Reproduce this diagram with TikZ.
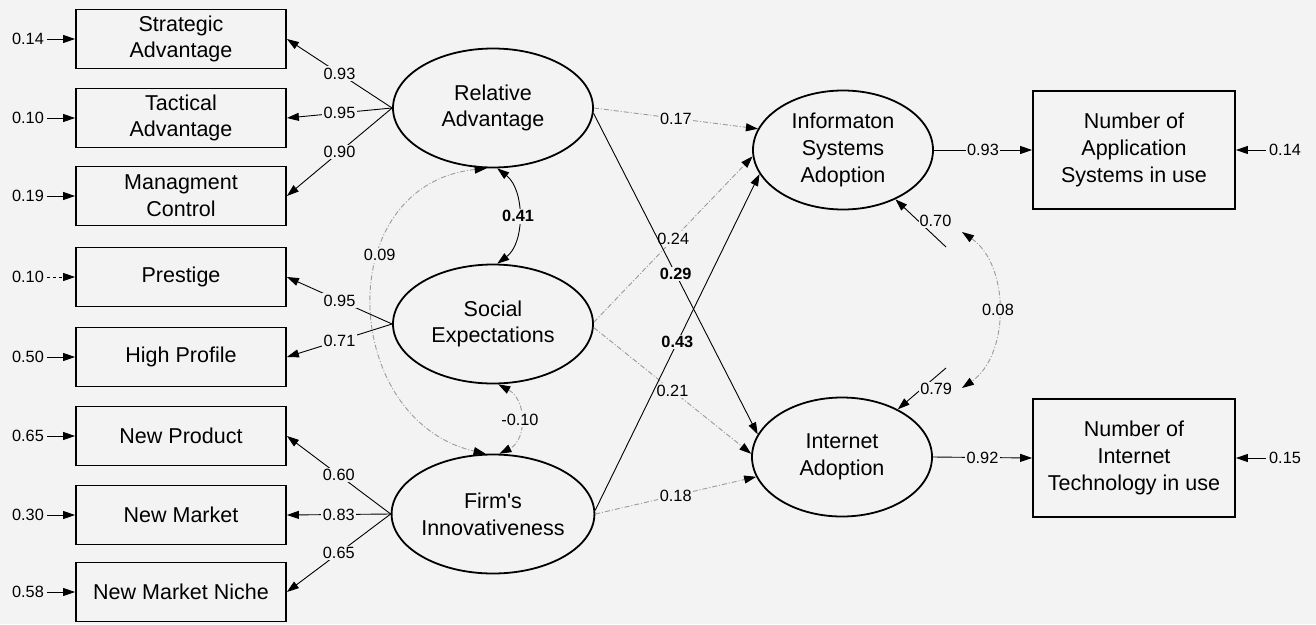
\documentclass[tikz,border=0pt]{standalone}
\usepackage{fontspec}
\setmainfont{Liberation Sans}
\usetikzlibrary{arrows.meta,shapes.geometric}
\definecolor{bg}{RGB}{243,243,243}
\definecolor{dgray}{RGB}{155,155,155}
\begin{document}
\begin{tikzpicture}[x=1pt,y=-1pt,
  every node/.style={font=\fontsize{16.3}{19}\selectfont},
  obs/.style={draw, line width=1.8pt, rectangle, minimum width=210pt, minimum height=59pt,
    align=center, inner sep=0pt, font=\fontsize{21.5}{26.8}\selectfont},
  obsr/.style={obs, minimum width=202pt, minimum height=118pt},
  lat/.style={draw, line width=1.8pt, ellipse, minimum width=200pt, minimum height=119pt,
    inner sep=0pt, align=center, font=\fontsize{21.5}{26.8}\selectfont},
  latr/.style={lat, minimum width=180pt},
  lbl/.style={fill=bg, inner sep=1.5pt, text=black},
  blbl/.style={lbl, font=\fontsize{16.3}{19}\selectfont\bfseries},
  arr/.style={line width=0.9pt, -{Triangle[length=12pt,width=8pt,color=black]}},
  darr/.style={arr, draw=dgray, dash pattern=on 5pt off 2pt on 1pt off 2pt},
  cov/.style={line width=0.9pt, {Triangle[length=12pt,width=8pt,color=black]}-{Triangle[length=12pt,width=8pt,color=black]}},
  dcov/.style={cov, draw=dgray, dash pattern=on 5pt off 2pt on 1pt off 2pt},
]
\fill[bg] (0,0) rectangle (1316,624);
\useasboundingbox (0,0) rectangle (1316,624);

% observed indicators (left)
\node[obs] (s1) at (181,39)  {Strategic\\Advantage};
\node[obs] (s2) at (181,118) {Tactical\\Advantage};
\node[obs] (s3) at (181,196) {Managment\\Control};
\node[obs] (s4) at (181,277) {Prestige};
\node[obs] (s5) at (181,357) {High Profile};
\node[obs] (s6) at (181,436) {New Product};
\node[obs] (s7) at (181,515) {New Market};
\node[obs] (s8) at (181,592) {New Market Niche};

% error variances (left)
\node (e1) at (28,39)  {0.14};
\node (e2) at (28,118) {0.10};
\node (e3) at (28,196) {0.19};
\node (e4) at (28,277) {0.10};
\node (e5) at (28,357) {0.50};
\node (e6) at (28,436) {0.65};
\node (e7) at (28,515) {0.30};
\node (e8) at (28,592) {0.58};
\draw[arr] (e1) -- (s1.west);
\draw[arr] (e2) -- (s2.west);
\draw[arr] (e3) -- (s3.west);
\draw[arr, dash pattern=on 3pt off 3pt] (e4) -- (s4.west);
\draw[arr] (e5) -- (s5.west);
\draw[arr] (e6) -- (s6.west);
\draw[arr] (e7) -- (s7.west);
\draw[arr] (e8) -- (s8.west);

% latent constructs
\node[lat] (RA) at (493,108) {Relative\\Advantage};
\node[lat] (SE) at (493,324) {Social\\Expectations};
\node[lat] (FI) at (493,514) {Firm\textquotesingle s\\Innovativeness};
\node[latr] (ISA) at (843,150) {Informaton\\Systems\\Adoption};
\node[latr] (IA) at (842,457) {Internet\\Adoption};

% observed outcomes (right)
\node[obsr] (B1) at (1134,150) {Number of\\Application\\Systems in use};
\node[obsr] (B2) at (1134,458) {Number of\\Internet\\Technology in use};
\node (r1) at (1285,150) {0.14};
\node (r2) at (1285,458) {0.15};
\draw[arr] (r1) -- (B1.east);
\draw[arr] (r2) -- (B2.east);

% loadings
\draw[arr] (RA.west) -- node[lbl]{0.93} (s1.east);
\draw[arr] (RA.west) -- node[lbl]{0.95} (s2.east);
\draw[arr] (RA.west) -- node[lbl]{0.90} (s3.east);
\draw[arr] (SE.west) -- node[lbl]{0.95} (s4.east);
\draw[arr] (SE.west) -- node[lbl]{0.71} (s5.east);
\draw[arr] (FI.west) -- node[lbl]{0.60} (s6.east);
\draw[arr] (FI.west) -- node[lbl]{0.83} (s7.east);
\draw[arr] (FI.west) -- node[lbl]{0.65} (s8.east);

% structural paths
\draw[darr] (RA.east) -- node[lbl]{0.17} (ISA.166);
\draw[darr] (SE.1) -- node[lbl]{0.24} (ISA.-176);
\draw[darr] (SE.-2) -- node[lbl]{0.21} (IA.178);
\draw[darr] (FI.east) -- node[lbl]{0.18} (IA.-167);
\draw[arr] (RA.-3) -- node[blbl]{0.29} (IA.165);
\draw[arr] (FI.2) -- node[blbl]{0.43} (ISA.-164);

% right loadings
\draw[arr] (ISA.east) -- node[lbl]{0.93} (B1.west);
\draw[arr] (IA.east) -- node[lbl]{0.92} (B2.west);

% covariances among exogenous constructs
\draw[cov] (RA.-86) .. controls (525,190) and (525,243) .. node[blbl]{0.41} (SE.86);
\draw[dcov] (SE.-85) .. controls (527,400) and (527,440) .. node[lbl]{-0.10} (FI.84);
\draw[dcov] (RA.-96) .. controls (330,185) and (340,420) .. node[lbl,pos=0.37]{0.09} (FI.97);

% disturbances
\coordinate (d1) at (946,247);
\coordinate (d2) at (946,368);
\draw[arr] (d1) -- node[lbl, pos=0.55, anchor=west, inner sep=1pt]{0.70} (ISA);
\draw[arr] (d2) -- node[lbl, pos=0.5, anchor=west, xshift=-3pt, inner sep=1pt]{0.79} (IA);
\coordinate (c1) at (962,232);
\coordinate (c2) at (962,388);
\draw[dcov] (c1) .. controls (1010,265) and (1010,355) .. node[lbl]{0.08} (c2);
\end{tikzpicture}
\end{document}
